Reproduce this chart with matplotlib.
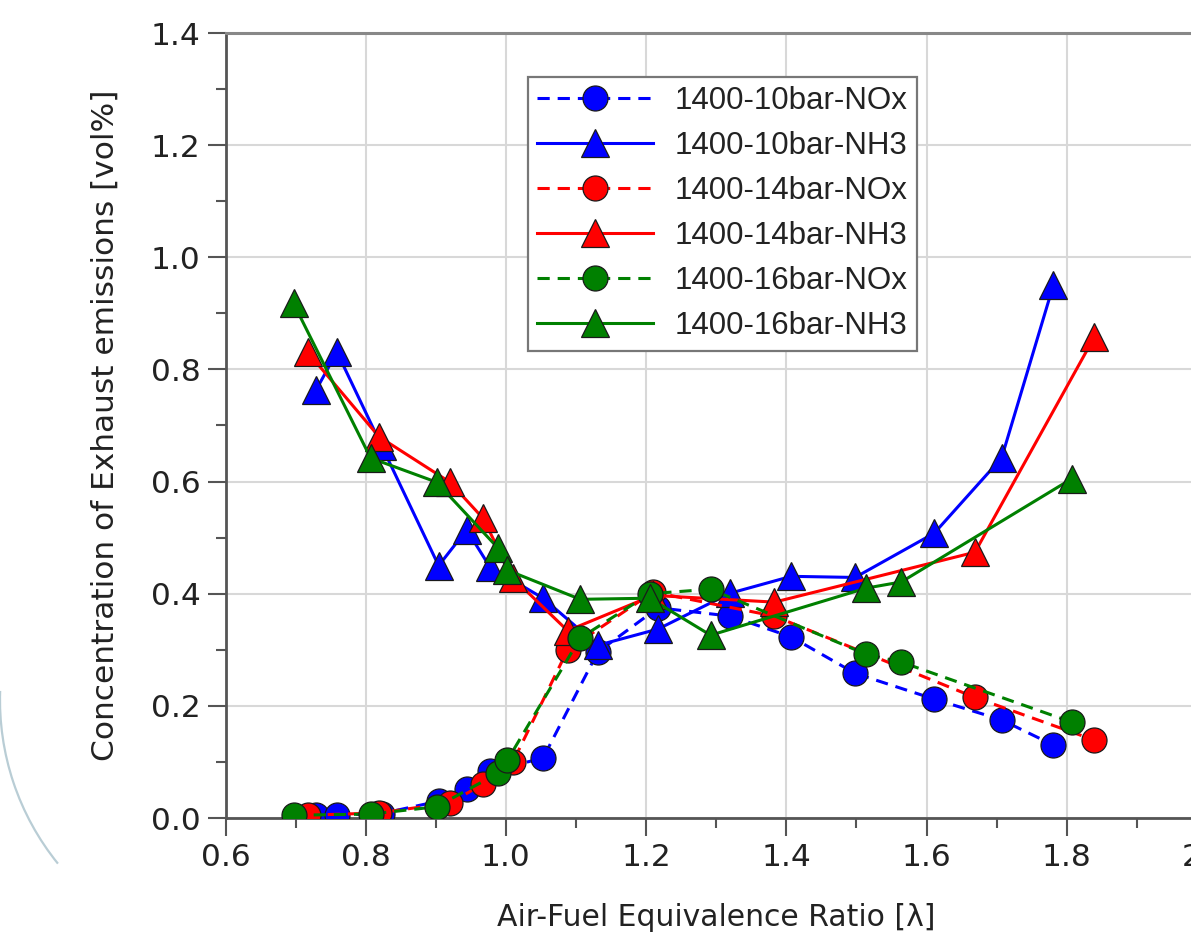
import matplotlib
matplotlib.use("Agg")
import matplotlib.pyplot as plt
from matplotlib.patches import Arc
from matplotlib.ticker import MultipleLocator, FormatStrFormatter

# ---- data ----
x_10 = [0.729, 0.759, 0.823, 0.904, 0.944, 0.977, 1.053, 1.131, 1.217, 1.320, 1.407, 1.498, 1.611, 1.707, 1.781]
nox_10 = [0.005, 0.005, 0.008, 0.030, 0.052, 0.083, 0.107, 0.296, 0.375, 0.360, 0.323, 0.258, 0.212, 0.175, 0.130]
nh3_10 = [0.763, 0.831, 0.663, 0.450, 0.514, 0.448, 0.392, 0.308, 0.337, 0.401, 0.431, 0.429, 0.508, 0.642, 0.951]

x_14 = [0.717, 0.819, 0.920, 0.967, 1.010, 1.088, 1.210, 1.383, 1.669, 1.839]
nox_14 = [0.005, 0.009, 0.027, 0.060, 0.100, 0.300, 0.403, 0.360, 0.215, 0.139]
nh3_14 = [0.831, 0.680, 0.599, 0.535, 0.428, 0.334, 0.397, 0.385, 0.474, 0.857]

x_16 = [0.697, 0.807, 0.901, 0.989, 1.002, 1.106, 1.205, 1.292, 1.514, 1.564, 1.807]
nox_16 = [0.005, 0.007, 0.020, 0.080, 0.103, 0.321, 0.400, 0.408, 0.292, 0.278, 0.171]
nh3_16 = [0.918, 0.642, 0.599, 0.481, 0.442, 0.390, 0.392, 0.326, 0.410, 0.421, 0.605]

labels = ["1400-10bar-NOx", "1400-10bar-NH3", "1400-14bar-NOx",
          "1400-14bar-NH3", "1400-16bar-NOx", "1400-16bar-NH3"]
colors = ["#0000ff", "#ff0000", "#008000"]
x_ticks = [0.6, 0.8, 1.0, 1.2, 1.4, 1.6, 1.8, 2.0]
y_ticks = [0.0, 0.2, 0.4, 0.6, 0.8, 1.0, 1.2, 1.4]

W, H = 1191, 947
fig = plt.figure(figsize=(W / 100, H / 100), dpi=100)
ax = fig.add_axes([225.5 / W, 129 / H, (1207 - 225.5) / W, (914 - 129) / H])

series = [(x_10, nox_10, nh3_10, colors[0]),
          (x_14, nox_14, nh3_14, colors[1]),
          (x_16, nox_16, nh3_16, colors[2])]
handles = []
for xs, nox, nh3, c in series:
    h1, = ax.plot(xs, nox, linestyle=(0, (4, 2.6)), color=c, lw=2.2,
                  marker="o", ms=18, mfc=c, mec="#1a1a1a", mew=0.9, zorder=3)
    h2, = ax.plot(xs, nh3, linestyle="-", color=c, lw=2.2,
                  marker="^", ms=20, mfc=c, mec="#1a1a1a", mew=0.9, zorder=3)
    handles += [h1, h2]

ax.set_xlim(0.6, 2.0)
ax.set_ylim(0.0, 1.4)
ax.set_xticks(x_ticks)
ax.set_yticks(y_ticks)
ax.xaxis.set_minor_locator(MultipleLocator(0.1))
ax.yaxis.set_minor_locator(MultipleLocator(0.1))
ax.xaxis.set_major_formatter(FormatStrFormatter("%.1f"))
ax.yaxis.set_major_formatter(FormatStrFormatter("%.1f"))
ax.grid(True, which="major", color="#d8d8d8", lw=1.5, zorder=0)
ax.set_axisbelow(True)

tick_col = "#555555"
ax.tick_params(axis="both", which="major", direction="out", length=13, width=1.5,
               color=tick_col, labelsize=22.5, labelcolor="#222222", pad=5)
ax.tick_params(axis="both", which="minor", direction="out", length=7, width=1.5,
               color=tick_col)
ax.tick_params(top=False, right=False, which="both")
for side in ["left", "bottom"]:
    ax.spines[side].set_color(tick_col)
    ax.spines[side].set_linewidth(2.0)
ax.spines["top"].set_color("#888888")
ax.spines["top"].set_linewidth(2.2)
ax.spines["right"].set_color("#888888")

ax.set_ylabel("Concentration of Exhaust emissions [vol%]", fontsize=22.5,
              color="#222222", labelpad=22)
ax.xaxis.set_label_coords((740 - 225.5) / (1207 - 225.5), -0.108)
ax.set_xlabel("Air-Fuel Equivalence Ratio [λ]", fontsize=21.5, color="#222222")

leg = fig.legend(handles, labels, loc="upper left",
                 bbox_to_anchor=(528 / W, (H - 77) / H), bbox_transform=fig.transFigure,
                 prop={"family": "Liberation Sans", "size": 22.5},
                 frameon=True, fancybox=False, framealpha=1, borderaxespad=0,
                 borderpad=0.3, labelspacing=0.48, handlelength=3.7,
                 handletextpad=0.7)
leg.get_frame().set_edgecolor("#777777")
leg.get_frame().set_linewidth(1.6)
for t in leg.get_texts():
    t.set_color("#222222")

# decorative arc at left edge of the original image
arc = Arc((2.60, (H - 700) / 100), 5.2, 5.2, theta1=178, theta2=219,
          transform=fig.dpi_scale_trans, color="#b9cdd5", lw=1.6)
fig.add_artist(arc)

fig.savefig("out.png", dpi=100)
